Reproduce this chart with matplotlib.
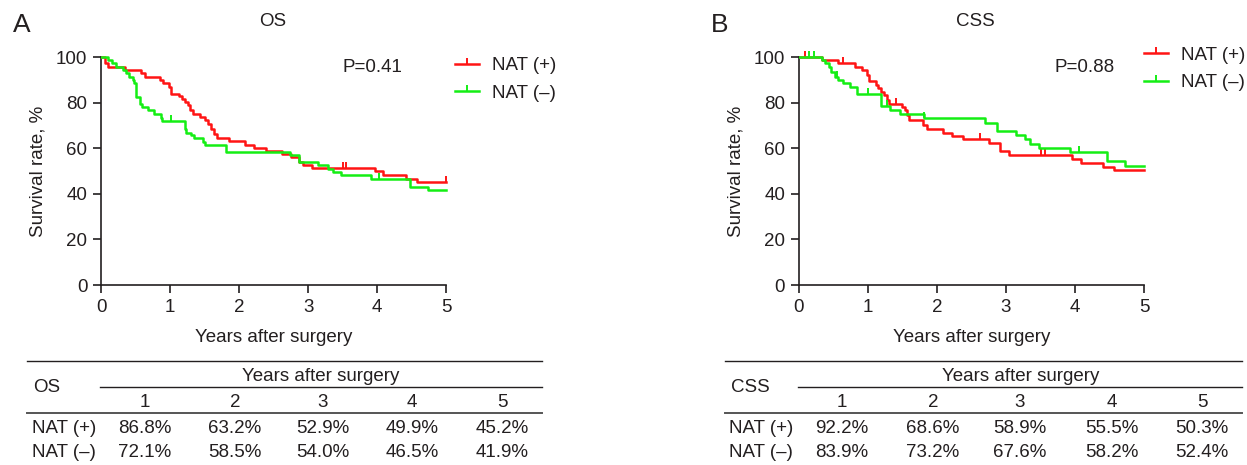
import numpy as np
import matplotlib
matplotlib.use('Agg')
import matplotlib.pyplot as plt
from matplotlib.lines import Line2D

plt.rcParams['font.family'] = ['Liberation Sans', 'DejaVu Sans']

# ---------------- data ----------------
# OS, NAT (+)
os_pos_t = [0, 0.06, 0.10, 0.34, 0.58, 0.63, 0.85, 0.90, 0.98, 1.01, 1.13, 1.17, 1.22, 1.26,
            1.29, 1.33, 1.43, 1.51, 1.55, 1.59, 1.63, 1.67, 1.85, 2.08, 2.22, 2.39, 2.62,
            2.75, 2.87, 2.92, 3.06, 3.96, 4.08, 4.42, 4.57, 5.0]
os_pos_s = [100, 97.4, 95.9, 94.4, 93.0, 91.5, 90.0, 88.5, 86.8, 84.1, 83.0, 81.9, 80.4, 79.0,
            76.8, 75.0, 73.8, 72.4, 70.9, 68.7, 66.5, 64.6, 63.2, 61.6, 60.1, 58.7, 57.5,
            56.0, 53.9, 52.9, 51.3, 49.9, 48.1, 46.6, 45.2, 45.2]
os_pos_cens = [3.50, 3.55, 5.0]

# OS, NAT (-)
os_neg_t = [0, 0.10, 0.16, 0.22, 0.31, 0.36, 0.40, 0.46, 0.48, 0.50, 0.51, 0.56, 0.59, 0.68,
            0.77, 0.87, 0.88, 1.21, 1.23, 1.30, 1.35, 1.47, 1.50, 1.81, 2.73, 2.87, 3.14,
            3.29, 3.36, 3.48, 3.91, 4.47, 4.73, 5.0]
os_neg_s = [100, 98.8, 97.4, 95.9, 94.4, 92.9, 91.5, 90.0, 88.5, 85.5, 82.6, 79.7, 78.2, 76.8,
            75.3, 73.4, 72.1, 68.7, 66.9, 65.7, 64.6, 62.8, 61.3, 58.5, 56.9, 54.0, 52.5,
            51.0, 49.6, 48.1, 46.5, 43.2, 41.9, 41.9]
os_neg_cens = [1.01, 4.03]

# CSS, NAT (+)
css_pos_t = [0, 0.33, 0.57, 0.81, 0.91, 0.98, 1.01, 1.12, 1.15, 1.19, 1.23, 1.27, 1.31, 1.49,
             1.54, 1.57, 1.60, 1.80, 1.85, 2.09, 2.22, 2.38, 2.76, 2.91, 3.04, 3.96, 4.09,
             4.41, 4.56, 5.0]
css_pos_s = [100, 98.8, 97.4, 95.9, 94.4, 92.2, 89.6, 87.8, 86.3, 84.9, 83.4, 81.2, 79.7, 78.2,
             76.8, 74.6, 72.4, 70.4, 68.6, 66.9, 65.4, 64.0, 62.5, 58.9, 57.2, 55.5, 53.7,
             51.8, 50.3, 50.3]
css_pos_cens = [0.09, 0.64, 1.41, 2.62, 3.50, 3.56]

# CSS, NAT (-)
css_neg_t = [0, 0.33, 0.38, 0.43, 0.47, 0.52, 0.57, 0.64, 0.74, 0.84, 1.19, 1.32, 1.47, 1.81,
             2.70, 2.87, 3.14, 3.28, 3.35, 3.48, 3.93, 4.47, 4.73, 5.0]
css_neg_s = [100, 98.8, 97.4, 95.9, 93.7, 91.5, 90.0, 88.5, 87.1, 83.9, 78.5, 76.8, 75.3, 73.2,
             71.3, 67.6, 66.0, 64.3, 62.1, 60.1, 58.2, 54.3, 52.4, 52.4]
css_neg_cens = [0.14, 0.22, 0.55, 1.00, 1.27, 1.81, 4.06]

group_labels = ['NAT (+)', 'NAT (–)']
p_values = ['P=0.41', 'P=0.88']
panel_titles = ['OS', 'CSS']
panel_letters = ['A', 'B']
x_ticks = [0, 1, 2, 3, 4, 5]
y_ticks = [0, 20, 40, 60, 80, 100]
table_years = ['1', '2', '3', '4', '5']
os_tab_pos = ['86.8%', '63.2%', '52.9%', '49.9%', '45.2%']
os_tab_neg = ['72.1%', '58.5%', '54.0%', '46.5%', '41.9%']
css_tab_pos = ['92.2%', '68.6%', '58.9%', '55.5%', '50.3%']
css_tab_neg = ['83.9%', '73.2%', '67.6%', '58.2%', '52.4%']

# ---------------- style ----------------
W, H = 1247, 465
TXT = '#231F20'
RED = '#FF1414'
GREEN = '#14EE14'
FS = 13.5


def fx(x):
    return x / W


def fy(y):
    return 1 - y / H


fig = plt.figure(figsize=(W / 100, H / 100), dpi=100)

cens_marker = [(0, 0), (0, 1)]

px_per_year = 69.0
px_per_pct = 2.277
XMAX, YMAX = 5.12, 103


def km(ax, t, s, cens, color):
    t = np.asarray(t)
    s = np.asarray(s)
    ax.step(t, s, where='post', color=color, lw=1.8, zorder=3)
    c = np.asarray(cens)
    idx = np.searchsorted(t, c, side='right') - 1
    ax.plot(c, s[idx], ls='none', marker=cens_marker, ms=8, mew=1.4,
            color=color, zorder=3)


panels = [
    dict(left=101.3, data=[(os_pos_t, os_pos_s, os_pos_cens), (os_neg_t, os_neg_s, os_neg_cens)],
         p=p_values[0], title=panel_titles[0], letter=panel_letters[0], letter_x=22,
         title_x=273, p_x=343, leg_x=455, leg_y=79.5),
    dict(left=799.0, data=[(css_pos_t, css_pos_s, css_pos_cens), (css_neg_t, css_neg_s, css_neg_cens)],
         p=p_values[1], title=panel_titles[1], letter=panel_letters[1], letter_x=720,
         title_x=975, p_x=1055, leg_x=1144, leg_y=69),
]

for pn in panels:
    w = XMAX * px_per_year
    h = YMAX * px_per_pct
    ax = fig.add_axes([fx(pn['left']), fy(285), w / W, h / H])
    ax.set_xlim(0, XMAX)
    ax.set_ylim(0, YMAX)
    for sp in ['top', 'right']:
        ax.spines[sp].set_visible(False)
    for sp in ['left', 'bottom']:
        ax.spines[sp].set_color(TXT)
        ax.spines[sp].set_linewidth(1.2)
    ax.spines['left'].set_bounds(0, 100)
    ax.spines['bottom'].set_bounds(0, 5)
    ax.set_xticks(x_ticks)
    ax.set_yticks(y_ticks)
    ax.tick_params(direction='out', length=6, width=1.2, color=TXT, labelcolor=TXT,
                   labelsize=FS, pad=4)
    ax.patch.set_visible(False)

    colors = [RED, GREEN]
    for (t, s, c), col in zip(pn['data'], colors):
        km(ax, t, s, c, col)

    ax.set_xlabel('Years after surgery', fontsize=FS, color=TXT, va='center')
    ax.xaxis.set_label_coords((274 - 101.3) / w, (285 - 337) / h)
    ax.set_ylabel('Survival rate, %', fontsize=FS, color=TXT, va='center')
    ax.yaxis.set_label_coords((38 - 101.3) / w, (285 - 171) / h)

    fig.text(fx(pn['title_x']), fy(21), pn['title'], fontsize=FS, color=TXT,
             ha='center', va='center')
    fig.text(fx(pn['letter_x']), fy(25), pn['letter'], fontsize=19, color=TXT,
             ha='center', va='center')
    fig.text(fx(pn['p_x']), fy(67), pn['p'], fontsize=FS, color=TXT,
             ha='left', va='center')

    handles = [Line2D([], [], color=col, lw=1.8, marker=cens_marker, ms=8, mew=1.4)
               for col in colors]
    leg = ax.legend(handles, group_labels, loc='center left',
                    bbox_to_anchor=(fx(pn['leg_x']), fy(pn['leg_y'])),
                    bbox_transform=fig.transFigure, frameon=False, fontsize=FS,
                    handlelength=1.3, handletextpad=0.65, labelspacing=0.55,
                    borderpad=0, borderaxespad=0, numpoints=1)
    for tx in leg.get_texts():
        tx.set_color(TXT)

# ---------------- tables ----------------
tables = [
    dict(name=panel_titles[0], x0=27, x1=542, name_x=47, hdr_x0=100, lab_x=32,
         cols=[145, 235, 323, 412, 502], hdr_c=321, rows=[os_tab_pos, os_tab_neg]),
    dict(name=panel_titles[1], x0=725, x1=1242, name_x=750, hdr_x0=798, lab_x=729,
         cols=[842, 933, 1020, 1112, 1202], hdr_c=1021, rows=[css_tab_pos, css_tab_neg]),
]

for tb in tables:
    fig.add_artist(Line2D([fx(tb['x0']), fx(tb['x1'])], [fy(361), fy(361)],
                          transform=fig.transFigure, color=TXT, lw=1.0))
    fig.add_artist(Line2D([fx(tb['hdr_x0']), fx(tb['x1'])], [fy(387), fy(387)],
                          transform=fig.transFigure, color=TXT, lw=1.0))
    fig.add_artist(Line2D([fx(tb['x0']), fx(tb['x1'])], [fy(413), fy(413)],
                          transform=fig.transFigure, color='#555555', lw=1.4))
    fig.text(fx(tb['name_x']), fy(387), tb['name'], fontsize=FS, color=TXT,
             ha='center', va='center')
    fig.text(fx(tb['hdr_c']), fy(376), 'Years after surgery', fontsize=FS, color=TXT,
             ha='center', va='center')
    for cx, yr in zip(tb['cols'], table_years):
        fig.text(fx(cx), fy(402), yr, fontsize=FS, color=TXT, ha='center', va='center')
    for ry, lab, vals in zip([428, 452], group_labels, tb['rows']):
        fig.text(fx(tb['lab_x']), fy(ry), lab, fontsize=FS, color=TXT, ha='left', va='center')
        for cx, v in zip(tb['cols'], vals):
            fig.text(fx(cx), fy(ry), v, fontsize=FS, color=TXT, ha='center', va='center')

fig.savefig('out.png', dpi=100)
